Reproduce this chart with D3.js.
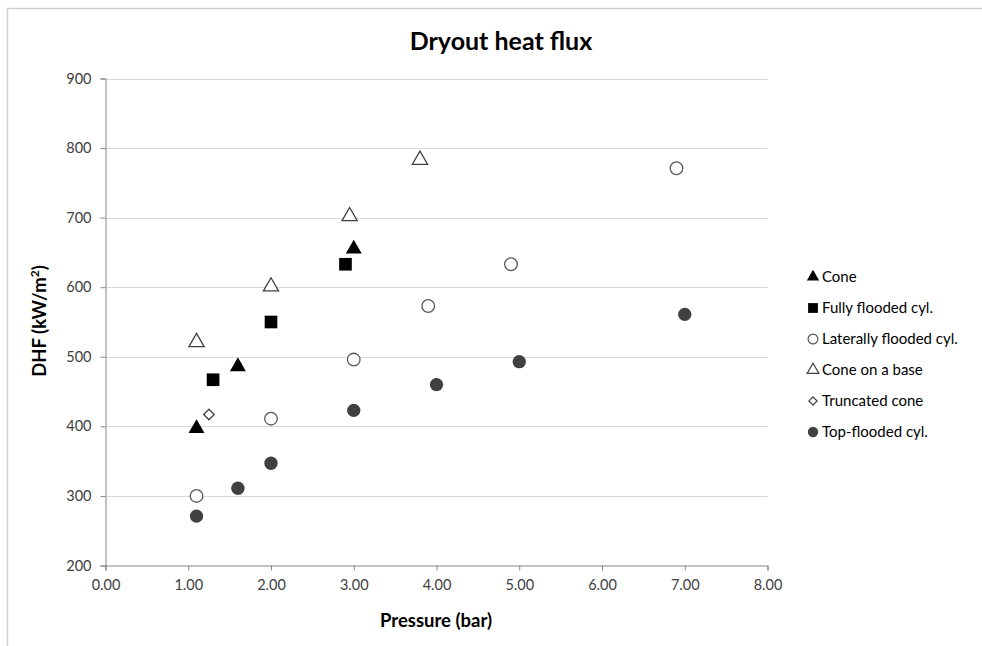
<!DOCTYPE html>
<html><head><meta charset="utf-8">
<script src="https://cdn.jsdelivr.net/npm/d3@7"></script>
<style>body{margin:0;background:#fff;} svg{display:block;font-family:Lato,"Open Sans",sans-serif;}</style>
</head><body><svg id="c" width="982" height="646"></svg>
<script>
const xTicks = [0,1,2,3,4,5,6,7,8];
const yTicks = [200,300,400,500,600,700,800,900];
const seriesNames = ["Cone","Fully flooded cyl.","Laterally flooded cyl.","Cone on a base","Truncated cone","Top-flooded cyl."];
const coneX = [1.1,1.6,3.0];
const coneY = [397,486,655];
const fullyX = [1.3,2.0,2.9];
const fullyY = [467,550,633];
const latX = [1.1,2.0,3.0,3.9,4.9,6.9];
const latY = [300,411,496,573,633,771];
const baseX = [1.1,2.0,2.95,3.8];
const baseY = [521,601,702,783];
const truncX = [1.25];
const truncY = [417];
const topX = [1.1,1.6,2.0,3.0,4.0,5.0,7.0];
const topY = [271,311,347,423,460,493,561];

const series = [
  {name:seriesNames[0], xs:coneX, ys:coneY, sym:d3.symbolTriangle, size:110, rot:0, fill:"#000", stroke:"none"},
  {name:seriesNames[1], xs:fullyX, ys:fullyY, sym:d3.symbolSquare, size:160, rot:0, fill:"#000", stroke:"none"},
  {name:seriesNames[2], xs:latX, ys:latY, sym:d3.symbolCircle, size:125, rot:0, fill:"#fff", stroke:"#595959"},
  {name:seriesNames[3], xs:baseX, ys:baseY, sym:d3.symbolTriangle, size:100, rot:0, fill:"#fff", stroke:"#404040"},
  {name:seriesNames[4], xs:truncX, ys:truncY, sym:d3.symbolSquare, size:55, rot:45, fill:"#fff", stroke:"#404040"},
  {name:seriesNames[5], xs:topX, ys:topY, sym:d3.symbolCircle, size:140, rot:0, fill:"#404040", stroke:"none"}
];

const svg = d3.select("#c");
svg.append("rect").attr("x",7.5).attr("y",8.5).attr("width",1000).attr("height",700)
  .attr("fill","none").attr("stroke","#d0d0d0").attr("stroke-width",1.5);

const x = d3.scaleLinear().domain([0,8]).range([105.5,767.5]);
const y = d3.scaleLinear().domain([200,900]).range([565.5,78.5]);

svg.append("g").selectAll("line").data(yTicks.slice(1)).join("line")
  .attr("x1",x(0)).attr("x2",x(8)).attr("y1",d=>Math.round(y(d))+0.5).attr("y2",d=>Math.round(y(d))+0.5)
  .attr("stroke","#d9d9d9").attr("stroke-width",1);

const xAxis = svg.append("g").attr("transform",`translate(0,${y(200)})`)
  .call(d3.axisBottom(x).tickValues(xTicks).tickFormat(d3.format(".2f")).tickSize(5).tickPadding(9));
const yAxis = svg.append("g").attr("transform",`translate(${x(0)},0)`)
  .call(d3.axisLeft(y).tickValues(yTicks).tickSize(5).tickPadding(9));
[xAxis,yAxis].forEach(a=>{
  a.selectAll("path,line").attr("stroke","#868686");
  a.selectAll("text").attr("fill","#404040").style("font-size","14.5px").style("font-family","Lato,sans-serif");
});

series.forEach(s=>{
  const pts = s.xs.map((v,i)=>[v,s.ys[i]]);
  svg.append("g").selectAll("path").data(pts).join("path")
    .attr("d",d3.symbol().type(s.sym).size(s.size))
    .attr("transform",d=>`translate(${x(d[0])},${y(d[1])}) rotate(${s.rot})`)
    .attr("fill",s.fill).attr("stroke",s.stroke).attr("stroke-width",1.3);
});

svg.append("text").attr("x",501).attr("y",50).attr("text-anchor","middle")
  .style("font-size","25px").style("font-weight","bold").attr("fill","#000").text("Dryout heat flux");
svg.append("text").attr("x",436).attr("y",627).attr("text-anchor","middle")
  .style("font-size","18.5px").style("font-weight","bold").attr("fill","#000").text("Pressure (bar)");
const yt = svg.append("text").attr("transform","translate(46,321) rotate(-90)").attr("text-anchor","middle")
  .style("font-size","18.5px").style("font-weight","bold").attr("fill","#000");
yt.append("tspan").text("DHF (kW/m");
yt.append("tspan").attr("dy",-7).style("font-size","12px").text("2");
yt.append("tspan").attr("dy",7).text(")");

const lg = svg.append("g");
series.forEach((s,i)=>{
  const yy = 277 + i*31;
  lg.append("path").attr("d",d3.symbol().type(s.sym).size(s.size*0.6)())
    .attr("transform",`translate(813,${yy}) rotate(${s.rot})`).attr("fill",s.fill).attr("stroke",s.stroke).attr("stroke-width",1.2);
  lg.append("text").attr("x",822).attr("y",yy+5).style("font-size","15px").attr("fill","#000").text(s.name);
});
</script></body></html>
